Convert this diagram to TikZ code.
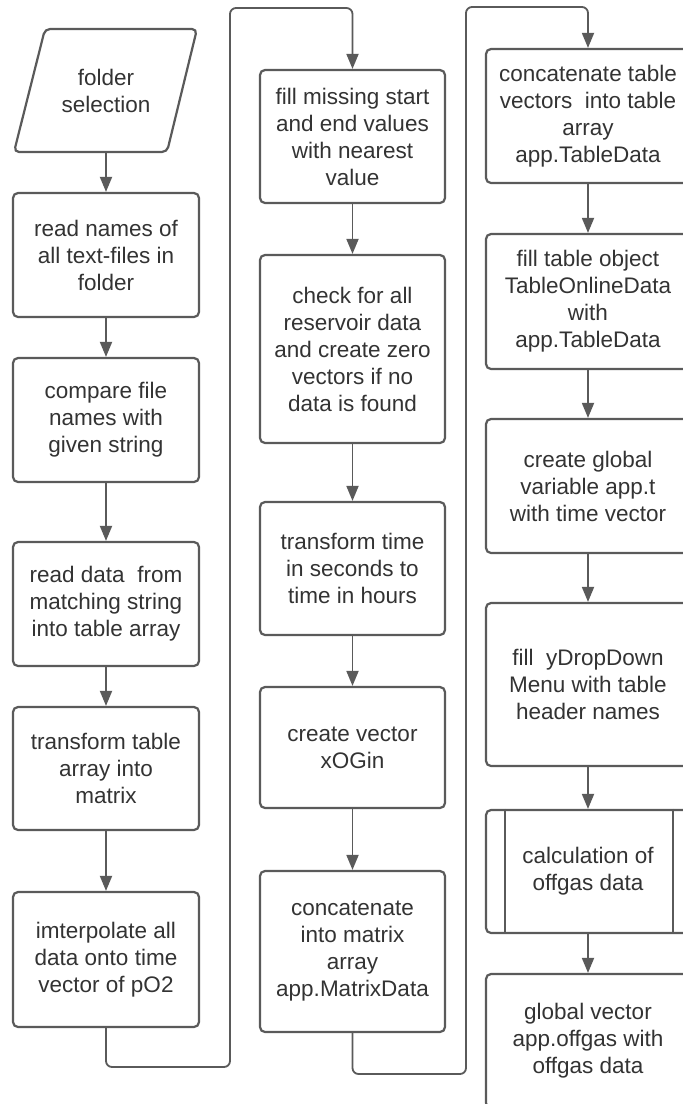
\documentclass[tikz,border=0pt]{standalone}
\usepackage{fontspec}
\setmainfont{Liberation Sans}
\usetikzlibrary{arrows.meta}
\usetikzlibrary{positioning}
\definecolor{linegray}{HTML}{5A5A5A}
\definecolor{textgray}{HTML}{333333}

\begin{document}
\begin{tikzpicture}[x=1pt,y=-1pt,
  box/.style={draw=linegray,line width=2.2pt,rounded corners=5pt,fill=white,text=textgray,
    align=center,font=\fontsize{22.5}{27}\selectfont,inner sep=0pt},
  flow/.style={draw=linegray,line width=1.8pt,-{Triangle[length=15pt,width=12pt]}},
  loop/.style={flow,rounded corners=6pt}]
\clip (0,0) rectangle (683,1104);
\fill[white] (0,0) rectangle (683,1104);

\draw[draw=linegray,line width=2.2pt,rounded corners=5pt] (45,29) -- (197,29) -- (167,152) -- (14,152) -- cycle;
\node[box,draw=none,fill=none,minimum width=150pt,minimum height=123pt] (sel) at (106,90.5) {folder\\selection};

\node[box,minimum width=186pt,minimum height=124pt] (b1) at (106,255) {read names of\\all text-files in\\folder};
\node[box,minimum width=186pt,minimum height=124pt] (b2) at (106,420) {compare file\\names with\\given string};
\node[box,minimum width=186pt,minimum height=124pt] (b3) at (106,604) {read data\ \ from\\matching string\\into table array};
\node[box,minimum width=186pt,minimum height=123pt] (b4) at (106,768.5) {transform table\\array into\\matrix};
\node[box,minimum width=186pt,minimum height=135pt] (b5) at (106,959.5) {imterpolate all\\data onto time\\vector of pO2};

\node[box,minimum width=185pt,minimum height=133pt] (m1) at (352.5,136.5) {fill missing start\\and end values\\with nearest\\value};
\node[box,minimum width=185pt,minimum height=188pt] (m2) at (352.5,349) {check for all\\reservoir data\\and create zero\\vectors if no\\data is found};
\node[box,minimum width=185pt,minimum height=133pt] (m3) at (352.5,568.5) {transform time\\in seconds to\\time in hours};
\node[box,minimum width=185pt,minimum height=121pt] (m4) at (352.5,747.5) {create vector\\xOGin};
\node[box,minimum width=185pt,minimum height=161pt] (m5) at (352.5,951.5) {concatenate\\into matrix\\array\\app.MatrixData};

\node[box,minimum width=204pt,minimum height=134pt] (r1) at (588,116) {concatenate table\\vectors\ \ into table\\array\\app.TableData};
\node[box,minimum width=204pt,minimum height=135pt] (r2) at (588,301.5) {fill table object\\TableOnlineData\\with\\app.TableData};
\node[box,minimum width=204pt,minimum height=134pt] (r3) at (588,486) {create global\\variable app.t\\with time vector};
\node[box,minimum width=204pt,minimum height=163pt] (r4) at (588,684.5) {fill\ \ yDropDown\\Menu with table\\header names};
\node[box,minimum width=204pt,minimum height=123pt] (r5) at (588,871.5) {calculation of\\offgas data};
\draw[linegray,line width=2.2pt] ([xshift=20pt]r5.north west) -- ([xshift=20pt]r5.south west);
\draw[linegray,line width=2.2pt] ([xshift=-18pt]r5.north east) -- ([xshift=-18pt]r5.south east);
\node[box,minimum width=204pt,minimum height=134pt] (r6) at (588,1041) {global vector\\app.offgas with\\offgas data};

\coordinate (l1) at (230,1067);
\coordinate (l2) at (230,8);
\coordinate (l3) at (466,1074);
\coordinate (l4) at (466,7);

\draw[flow] (sel.south) -- (b1.north);
\draw[flow] (b1) -- (b2);
\draw[flow] (b2) -- (b3);
\draw[flow] (b3) -- (b4);
\draw[flow] (b4) -- (b5);
\draw[loop] (b5.south) |- (l1) -- (l2) -| (m1.north);
\draw[flow] (m1) -- (m2);
\draw[flow] (m2) -- (m3);
\draw[flow] (m3) -- (m4);
\draw[flow] (m4) -- (m5);
\draw[loop] (m5.south) |- (l3) -- (l4) -| (r1.north);
\draw[flow] (r1) -- (r2);
\draw[flow] (r2) -- (r3);
\draw[flow] (r3) -- (r4);
\draw[flow] (r4) -- (r5);
\draw[flow] (r5) -- (r6);

\end{tikzpicture}
\end{document}
